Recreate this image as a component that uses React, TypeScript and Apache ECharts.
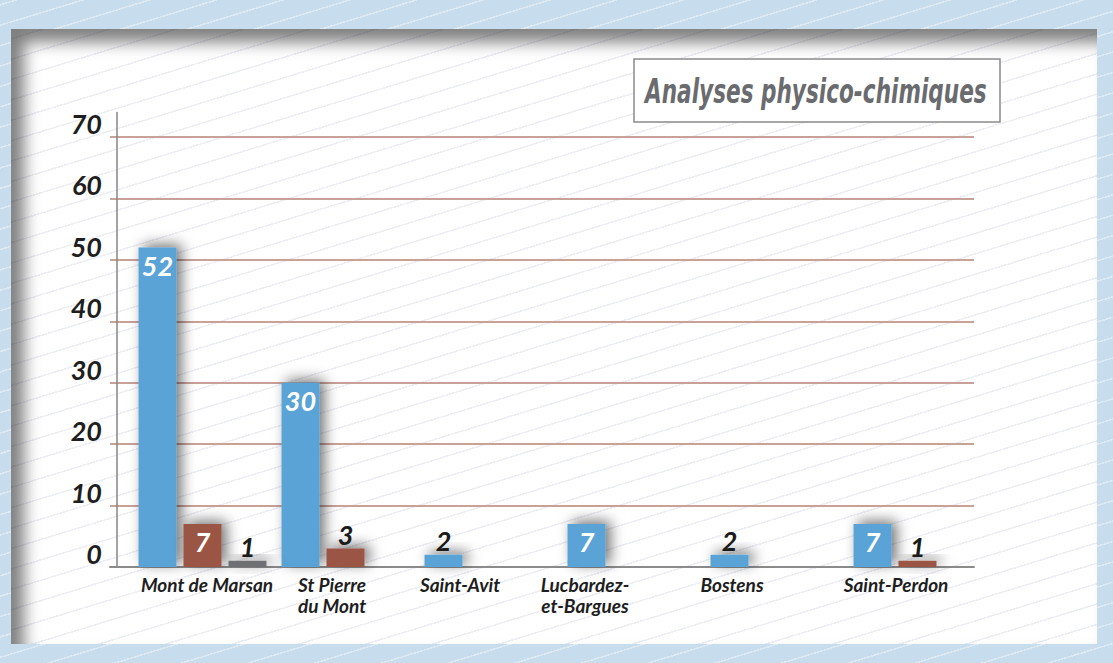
import React, { useEffect, useRef } from "react";
import * as echarts from "echarts";

// ---------- data ----------
const categories = [
  "Mont de Marsan",
  "St Pierre\ndu Mont",
  "Saint-Avit",
  "Lucbardez-\net-Bargues",
  "Bostens",
  "Saint-Perdon",
];
const valuesBlue = [52, 30, 2, 7, 2, 7];
const valuesRed = [7, 3, null, null, null, 1];
const valuesGray = [1, null, null, null, null, null];
const yTickValues = [0, 10, 20, 30, 40, 50, 60, 70];
const titleText = "Analyses physico-chimiques";

// ---------- layout / style ----------
const W = 1113;
const H = 663;
const Y_MAX = 74;
const LABEL_SHIFT = [25, 6, -10, -29, -26, -6]; // horizontal nudge of category labels (px)
const FONT = "Lato";
const COLORS = ["#5aa3d6", "#9b5444", "#6e6f73"];

const labelFor = (v: number) =>
  v >= 7
    ? { show: true, position: "insideTop", distance: 4, color: "#ffffff" }
    : { show: true, position: "top", distance: 1, color: "#1b1b1b" };

const toData = (vals: (number | null)[]) =>
  vals.map((v) => (v == null ? "-" : { value: v, label: labelFor(v) }));

const richShift: Record<string, any> = {};
LABEL_SHIFT.forEach((d, i) => {
  richShift["s" + i] = {
    fontFamily: FONT,
    fontStyle: "italic",
    fontWeight: "bold",
    fontSize: 19,
    lineHeight: 21,
    color: "#1e1e1e",
    padding: d >= 0 ? [0, 0, 0, 2 * d] : [0, -2 * d, 0, 0],
  };
});

export default function App() {
  const ref = useRef<HTMLDivElement>(null);

  useEffect(() => {
    if (!ref.current) return;
    const chart = echarts.init(ref.current, null, { renderer: "svg" });

    const gridTop = 112.4;
    const gridBottom = 96;

    const barCommon = {
      type: "bar",
      xAxisIndex: 1,
      yAxisIndex: 1,
      barWidth: 38,
      barGap: "18.4%",
      label: {
        show: true,
        fontFamily: FONT,
        fontStyle: "italic",
        fontWeight: "bold",
        fontSize: 27,
      },
    };
    const shadow = {
      shadowBlur: 14,
      shadowColor: "rgba(0,0,0,0.55)",
      shadowOffsetX: 5,
      shadowOffsetY: -3,
    };

    const option: any = {
      animation: false,
      backgroundColor: "transparent",
      grid: [
        { left: 110, right: W - 974, top: gridTop, bottom: gridBottom },
        { left: 131, right: W - 989, top: gridTop, bottom: gridBottom },
      ],
      xAxis: [
        {
          type: "category",
          gridIndex: 0,
          data: categories,
          axisLine: { show: true, lineStyle: { color: "#8b8b8b", width: 2 } },
          axisTick: { show: false },
          axisLabel: {
            margin: 7,
            interval: 0,
            formatter: (value: string, index: number) =>
              value
                .split("\n")
                .map((l) => `{s${index}|${l}}`)
                .join("\n"),
            rich: richShift,
          },
        },
        {
          type: "category",
          gridIndex: 1,
          data: categories,
          show: false,
        },
      ],
      yAxis: [
        {
          type: "value",
          gridIndex: 0,
          min: 0,
          max: Y_MAX,
          interval: 10,
          offset: -7,
          axisLine: { show: true, lineStyle: { color: "#858585", width: 1.5 } },
          axisTick: { show: false },
          axisLabel: {
            margin: 15,
            showMaxLabel: false,
            verticalAlign: "bottom",
            fontFamily: FONT,
            fontStyle: "italic",
            fontWeight: "bold",
            fontSize: 27,
            lineHeight: 27,
            color: "#1e1e1e",
            formatter: (v: number) => (yTickValues.includes(v) ? String(v) : ""),
          },
          splitLine: {
            show: true,
            showMaxLine: false,
            lineStyle: { color: "#c8a199", width: 2 },
          },
        },
        {
          type: "value",
          gridIndex: 1,
          min: 0,
          max: Y_MAX,
          show: false,
          splitLine: { show: false },
        },
      ],
      series: [
        { ...barCommon, name: "s1", data: toData(valuesBlue), itemStyle: { color: COLORS[0], ...shadow } },
        { ...barCommon, name: "s2", data: toData(valuesRed), itemStyle: { color: COLORS[1], ...shadow } },
        { ...barCommon, name: "s3", data: toData(valuesGray), itemStyle: { color: COLORS[2], ...shadow } },
      ],
      graphic: [
        {
          type: "group",
          children: [
            {
              type: "rect",
              shape: { x: 634, y: 59, width: 366, height: 63 },
              style: { fill: "#ffffff", stroke: "#8a8a8a", lineWidth: 1.5 },
            },
            {
              type: "text",
              x: 645,
              y: 92,
              scaleX: 0.655,
              style: {
                text: titleText,
                x: 0,
                y: 0,
                align: "left",
                verticalAlign: "middle",
                fontFamily: "DejaVu Sans",
                fontWeight: "bold",
                fontStyle: "italic",
                fontSize: 33,
                fill: "#6a6b6e",
              },
            },
          ],
        },
      ],
    };

    chart.setOption(option);
    return () => chart.dispose();
  }, []);

  return (
    <div
      style={{
        position: "absolute",
        left: 0,
        top: 0,
        width: W,
        height: H,
        overflow: "hidden",
        background: "#c7dcec",
      }}
    >
      <div
        style={{
          position: "absolute",
          left: 0,
          top: 0,
          width: W,
          height: H,
          backgroundImage:
            "repeating-linear-gradient(-17deg, rgba(255,255,255,0) 0px, rgba(255,255,255,0) 18px, rgba(255,255,255,0.4) 18px, rgba(255,255,255,0.4) 19.5px)",
        }}
      />
      <div
        style={{
          position: "absolute",
          left: 11,
          top: 29,
          width: 1086,
          height: 615,
          background:
            "repeating-linear-gradient(-17deg, rgba(180,190,210,0) 0px, rgba(180,190,210,0) 18px, rgba(180,190,210,0.25) 18px, rgba(180,190,210,0.25) 19.5px), #ffffff",
          boxShadow: "inset 13px 13px 16px rgba(0,0,0,0.5)",
        }}
      />
      <div
        ref={ref}
        style={{ position: "absolute", left: 0, top: 0, width: W, height: H }}
      />
    </div>
  );
}
